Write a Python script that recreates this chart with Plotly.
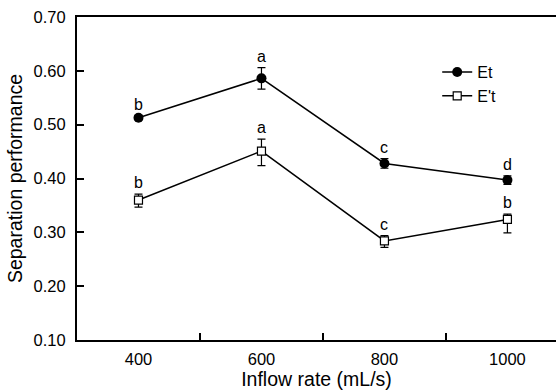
import plotly.graph_objects as go

flow = [400, 600, 800, 1000]
et = [0.513, 0.586, 0.428, 0.397]
et_err = [0.004, 0.020, 0.009, 0.008]
et_letters = ["b", "a", "c", "d"]
ept = [0.360, 0.451, 0.284, 0.324]
ept_err_plus = [0.011, 0.022, 0.010, 0.010]
ept_err_minus = [0.013, 0.027, 0.012, 0.025]
ept_letters = ["b", "a", "c", "b"]

FONT = "Liberation Sans, Arial"

fig = go.Figure()
fig.add_trace(go.Scatter(
    x=flow, y=et, name="Et", mode="lines+markers",
    line=dict(color="black", width=1.5),
    marker=dict(symbol="circle", size=10, color="black"),
    error_y=dict(type="data", array=et_err, color="black", thickness=1.2, width=4),
))
fig.add_trace(go.Scatter(
    x=flow, y=ept, name="E't", mode="lines+markers",
    line=dict(color="black", width=1.5),
    marker=dict(symbol="square", size=8, color="white", line=dict(color="black", width=1.2)),
    error_y=dict(type="data", array=ept_err_plus, arrayminus=ept_err_minus,
                 color="black", thickness=1.2, width=4),
))

for xs, ys, errs, letters in [(flow, et, et_err, et_letters), (flow, ept, ept_err_plus, ept_letters)]:
    for xv, yv, ev, lt in zip(xs, ys, errs, letters):
        fig.add_annotation(x=xv, y=yv + ev, text=lt, showarrow=False,
                           yanchor="bottom", yshift=1,
                           font=dict(family=FONT, size=16, color="black"))

fig.update_layout(
    width=556, height=392,
    margin=dict(l=77, r=0, t=17, b=52, autoexpand=False),
    paper_bgcolor="white", plot_bgcolor="white",
    font=dict(family=FONT, size=16, color="black"),
    showlegend=True,
    legend=dict(x=0.752, y=0.882, xanchor="left", yanchor="top",
                bgcolor="rgba(0,0,0,0)", font=dict(size=16),
                tracegroupgap=0, itemwidth=30),
    xaxis=dict(
        range=[300, 1079], tickvals=flow, ticktext=[str(v) for v in flow],
        ticks="", showgrid=False, zeroline=False, automargin=False,
        showline=True, linecolor="black", linewidth=2, mirror=True,
        tickfont=dict(size=16.5), ticklabelstandoff=3,
        minor=dict(tickvals=[500, 700, 900], ticks="inside", ticklen=7, tickwidth=2,
                   tickcolor="black", showgrid=False),
        title=dict(text="Inflow rate (mL/s)", font=dict(size=19.5), standoff=5),
    ),
    yaxis=dict(
        range=[0.10, 0.70], tickvals=[0.1, 0.2, 0.3, 0.4, 0.5, 0.6, 0.7],
        tickformat=".2f", ticks="inside", ticklen=7, tickwidth=2, tickcolor="black",
        showgrid=False, zeroline=False, automargin=False,
        showline=True, linecolor="black", linewidth=2,
        tickfont=dict(size=16.5), ticklabelstandoff=6,
        title=dict(text="Separation performance", font=dict(size=19.5), standoff=6),
    ),
)

fig.write_html("out.html", config={"displayModeBar": False},
               post_script="document.body.style.margin='0';document.body.style.overflow='hidden';")
